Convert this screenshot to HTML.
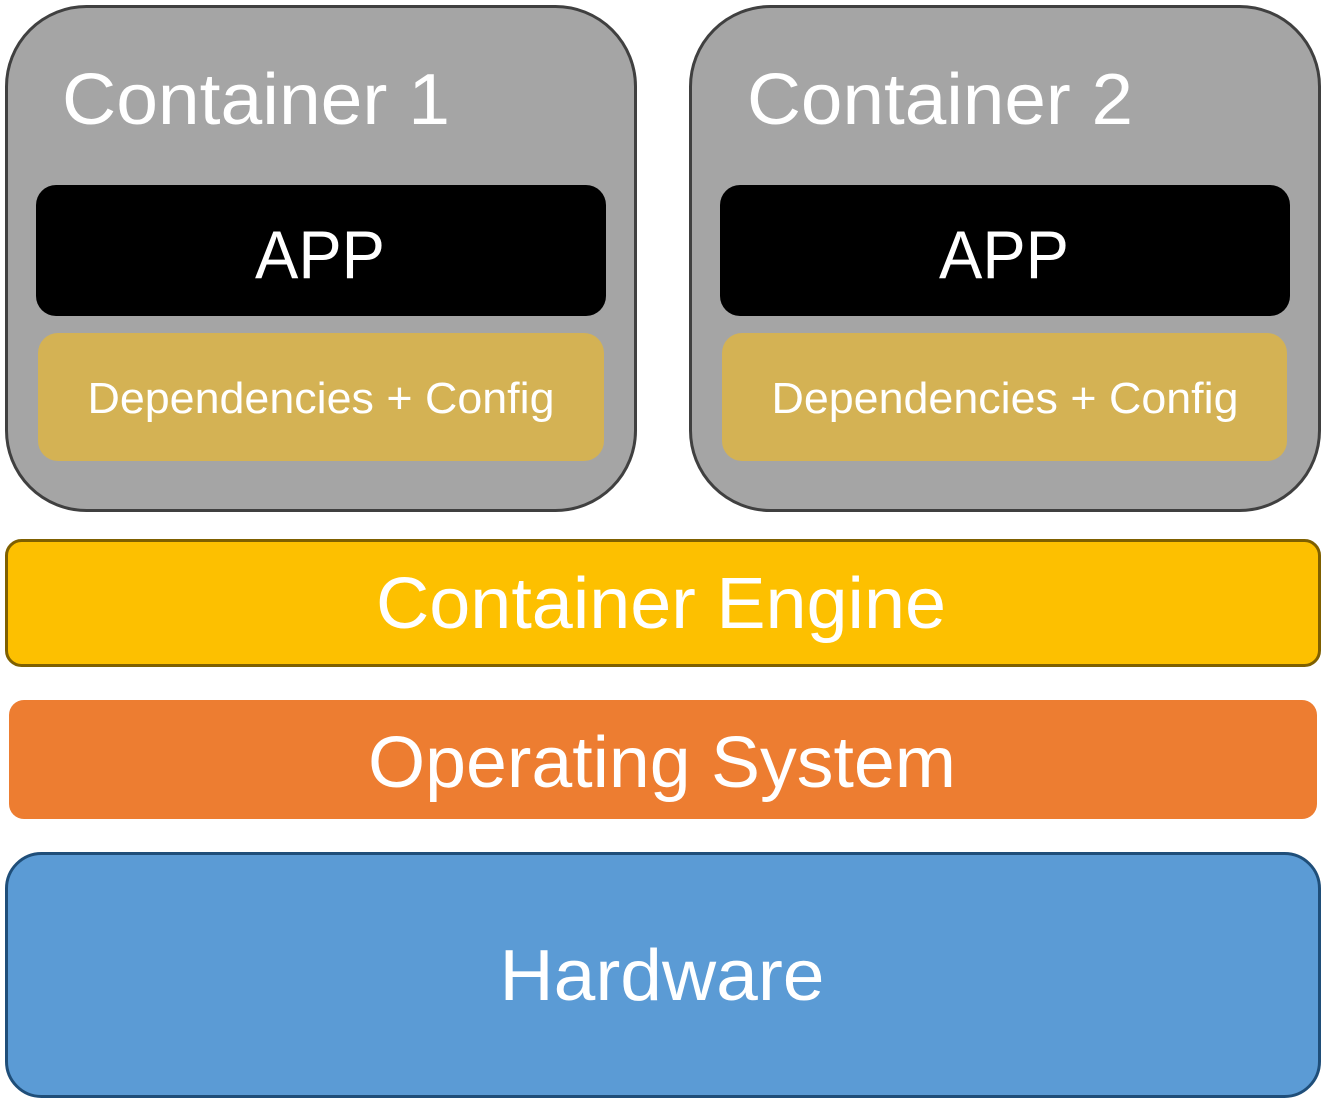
<!DOCTYPE html>
<html><head><meta charset="utf-8"><style>html,body{margin:0;padding:0;background:#fff}svg{display:block}</style></head>
<body>
<svg width="1324" height="1104" viewBox="0 0 1324 1104" xmlns="http://www.w3.org/2000/svg" font-family="Liberation Sans, sans-serif" fill="#fff">
<g>
<rect x="6.5" y="6.5" width="629" height="504" rx="80" fill="#a5a5a5" stroke="#404040" stroke-width="3"/>
<rect x="690.5" y="6.5" width="629" height="504" rx="80" fill="#a5a5a5" stroke="#404040" stroke-width="3"/>
<text x="62" y="124" font-size="72" textLength="388" lengthAdjust="spacingAndGlyphs" fill="#fff">Container 1</text>
<text x="747" y="124" font-size="72" textLength="386" lengthAdjust="spacingAndGlyphs" fill="#fff">Container 2</text>
<rect x="36" y="185" width="570" height="131" rx="20" fill="#000"/>
<rect x="720" y="185" width="570" height="131" rx="20" fill="#000"/>
<text x="320" y="278" font-size="68" text-anchor="middle" textLength="130" lengthAdjust="spacingAndGlyphs" fill="#fff">APP</text>
<text x="1004" y="278" font-size="68" text-anchor="middle" textLength="130" lengthAdjust="spacingAndGlyphs" fill="#fff">APP</text>
<rect x="38" y="333" width="566" height="128" rx="20" fill="#d4b254"/>
<rect x="722" y="333" width="565" height="128" rx="20" fill="#d4b254"/>
<text x="321" y="413" font-size="44" text-anchor="middle" textLength="467" lengthAdjust="spacingAndGlyphs" fill="#fff">Dependencies + Config</text>
<text x="1005" y="413" font-size="44" text-anchor="middle" textLength="467" lengthAdjust="spacingAndGlyphs" fill="#fff">Dependencies + Config</text>
<rect x="6.5" y="540.5" width="1313" height="125" rx="15" fill="#fdc000" stroke="#7f6000" stroke-width="3"/>
<text x="661" y="628" font-size="72" text-anchor="middle" textLength="570" lengthAdjust="spacingAndGlyphs" fill="#fff">Container Engine</text>
<rect x="9" y="700" width="1308" height="119" rx="15" fill="#ed7d31"/>
<text x="662" y="787" font-size="72" text-anchor="middle" textLength="588" lengthAdjust="spacingAndGlyphs" fill="#fff">Operating System</text>
<rect x="6.5" y="853.5" width="1313" height="243" rx="35" fill="#5b9bd5" stroke="#1f4e79" stroke-width="3"/>
<text x="662" y="1000" font-size="72" text-anchor="middle" textLength="325" lengthAdjust="spacingAndGlyphs" fill="#fff">Hardware</text>
</g>
</svg>
</body></html>
